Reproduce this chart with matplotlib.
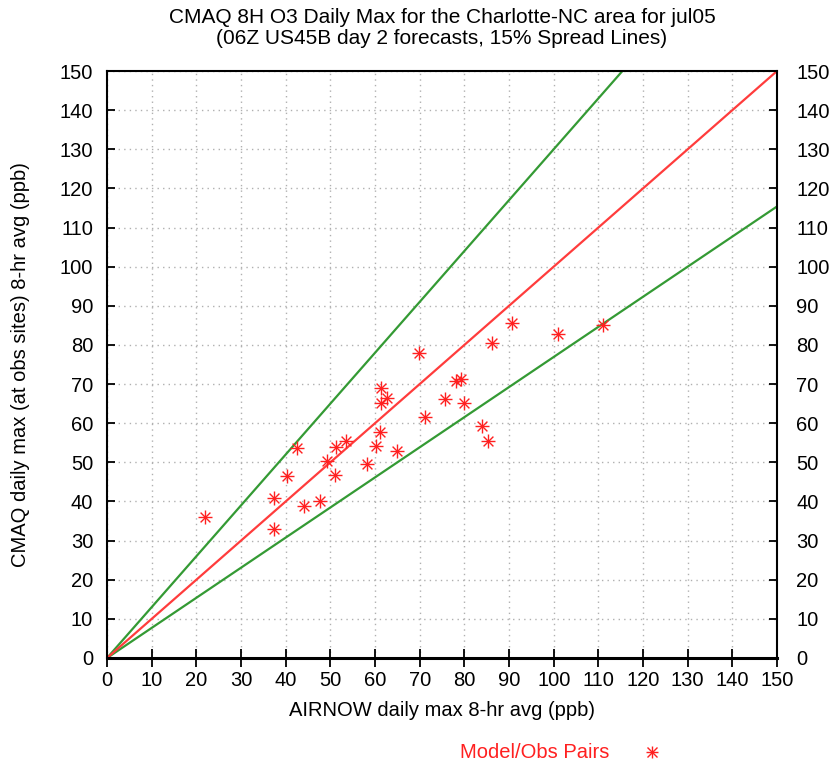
import numpy as np
import matplotlib
matplotlib.use("Agg")
import matplotlib.pyplot as plt

plt.rcParams['font.family'] = ['Liberation Sans', 'DejaVu Sans']

# AIRNOW obs (x) vs CMAQ model (y), ppb
obs = [21.9, 37.4, 37.4, 40.3, 42.5, 44.1, 47.7, 49.2, 51.0, 51.3, 53.5,
       58.2, 60.2, 61.1, 61.3, 61.3, 62.7, 64.9, 69.8, 71.2, 75.7, 78.1,
       79.2, 79.9, 83.9, 85.3, 86.2, 90.7, 101.0, 111.0]
model = [36.0, 41.0, 33.0, 46.5, 53.7, 38.8, 40.1, 50.3, 46.8, 53.9, 55.5,
         49.6, 54.2, 57.8, 69.0, 65.2, 66.4, 52.9, 77.9, 61.6, 66.2, 70.8,
         71.3, 65.2, 59.3, 55.5, 80.5, 85.6, 82.8, 85.1]
spread = 1.3
ticks = list(range(0, 151, 10))
fs = 14.5

fig = plt.figure(figsize=(8.33, 7.66), dpi=100)
ax = fig.add_axes([0.1285, 0.141, 0.8043, 0.7663])

xs = np.array([0, 150])
ax.plot(xs, xs * spread, color='#349a34', lw=1.6, zorder=2)
ax.plot(xs, xs / spread, color='#349a34', lw=1.6, zorder=2)
ax.plot(xs, xs, color='#ff3c3c', lw=1.6, zorder=2)

ax.scatter(obs, model, marker='+', s=90, color='#ff2020', lw=1.0, zorder=3)
ax.scatter(obs, model, marker='x', s=50, color='#ff2020', lw=1.0, zorder=3)

ax.set_xlim(0, 150)
ax.set_ylim(0, 150)
ax.set_xticks(ticks)
ax.set_yticks(ticks)
ax.grid(True, color='#b0b0b0', ls=(0, (1, 3)), lw=1)
ax.tick_params(axis='x', direction='inout', length=13, width=1.3, top=False,
               labelsize=fs, pad=3)
ax.tick_params(axis='y', direction='in', length=6, width=1.3, right=False,
               labelsize=fs, pad=10)
for s in ax.spines.values():
    s.set_linewidth(1.5)
ax.spines['bottom'].set_linewidth(2.2)

# right-hand labels
ax2 = ax.twinx()
ax2.set_ylim(0, 150)
ax2.set_yticks(ticks)
ax2.tick_params(axis='y', direction='in', length=6, width=1.3,
                labelsize=fs, pad=14)
for s in ax2.spines.values():
    s.set_visible(False)

ax.set_xlabel('AIRNOW daily max 8-hr avg (ppb)', fontsize=fs)
ax.xaxis.set_label_coords(0.5, -0.074)
ax.set_ylabel('CMAQ daily max (at obs sites) 8-hr avg (ppb)', fontsize=fs)
ax.yaxis.set_label_coords(-0.115, 0.5)

fig.text(0.5305, 0.989, 'CMAQ 8H O3 Daily Max for the Charlotte-NC area for jul05\n'
         '(06Z US45B day 2 forecasts, 15% Spread Lines)',
         ha='center', va='top', fontsize=15, linespacing=1.08)

fig.text(0.731, 0.018, 'Model/Obs Pairs', color='#ff2020', ha='right',
         va='center', fontsize=fs)
fig.lines.append(plt.Line2D([0.783], [0.018], marker='+', ms=9, color='#ff2020',
                            mew=1.0, transform=fig.transFigure))
fig.lines.append(plt.Line2D([0.783], [0.018], marker='x', ms=7, color='#ff2020',
                            mew=1.0, transform=fig.transFigure))

fig.savefig('out.png', dpi=100)
